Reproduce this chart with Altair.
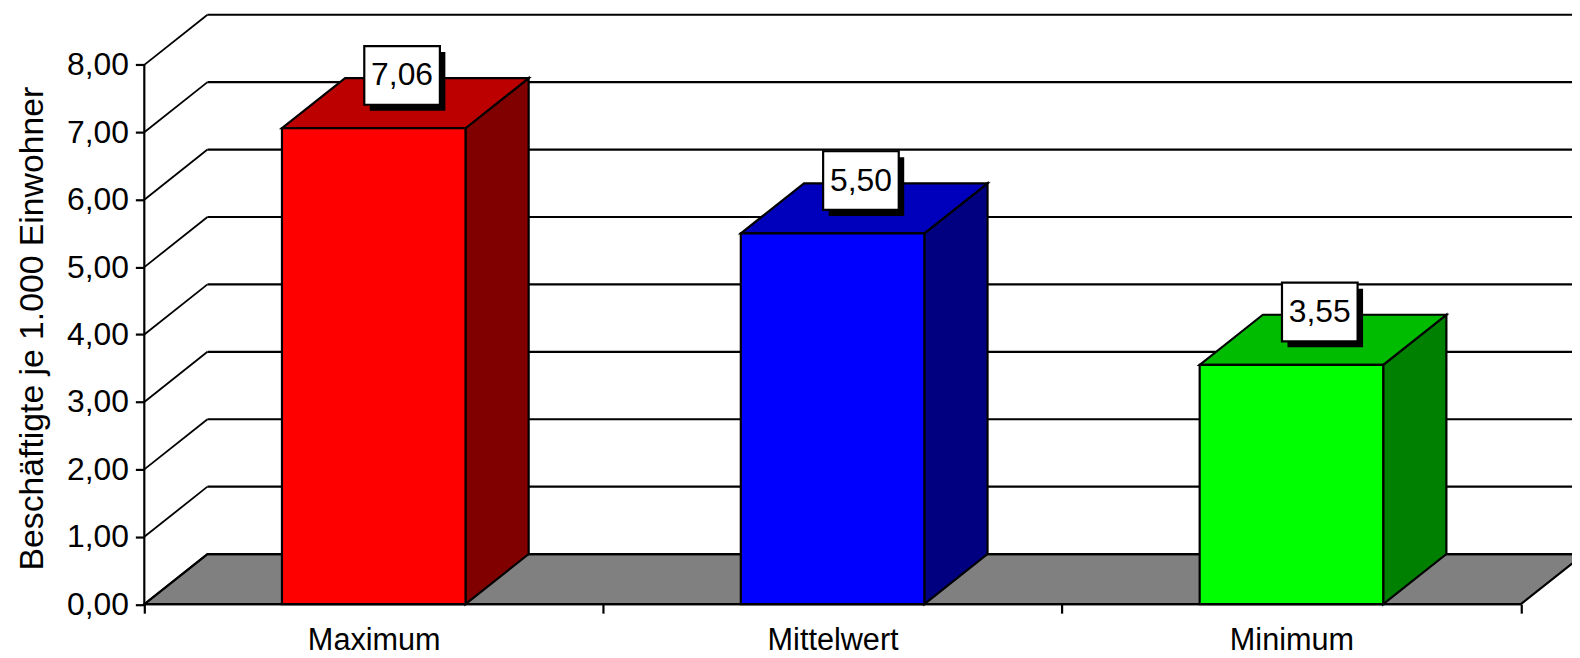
import altair as alt
import pandas as pd

# --- chart values
categories = ["Maximum", "Mittelwert", "Minimum"]
values = [7.06, 5.50, 3.55]
value_labels = ["7,06", "5,50", "3,55"]
front_colors = ["#FF0000", "#0000FF", "#00FF00"]
top_colors = ["#BC0000", "#0000BC", "#00BC00"]
side_colors = ["#800000", "#000080", "#008000"]
y_ticks = [0, 1, 2, 3, 4, 5, 6, 7, 8]
floor_color = "#808080"

# --- projection of the pseudo-3D box, in data units
PX_X = 461.2          # pixels per category
PX_Y = 67.76          # pixels per unit of value
DX = 63.5 / PX_X      # depth along x
DY = 50.4 / PX_Y      # depth along y
BAR = 0.4             # bar width as a share of the category
PLOT_W, PLOT_H = 1435, 592.5
X_MAX = PLOT_W / PX_X
Y_MAX = PLOT_H / PX_Y
FONT = "Liberation Sans"
LW = 2.2

xs = alt.Scale(domain=[0, X_MAX], nice=False, zero=False)
ys = alt.Scale(domain=[0, Y_MAX], nice=False, zero=False)

x_axis_vals = [0, 0.5, 1, 1.5, 2, 2.5, 3]
label_expr = "datum.value==0.5?'%s':datum.value==1.5?'%s':datum.value==2.5?'%s':''" % tuple(categories)
x_axis = alt.Axis(
    values=x_axis_vals, labelExpr=label_expr, title=None, domain=False, grid=False,
    tickSize=9, tickWidth=LW, tickColor="black",
    tickOpacity={"condition": {"test": "datum.value % 1 === 0", "value": 1}, "value": 0},
    labelFont=FONT, labelFontSize=30.8, labelColor="black", labelPadding=13,
    labelOverlap=False, labelFlush=False, labelBound=False, labelAngle=0)
y_axis = alt.Axis(
    values=y_ticks, labelExpr="replace(format(datum.value,'.2f'),'.',',')",
    title="Beschäftigte je 1.000 Einwohner", titleFont=FONT, titleFontSize=33.9,
    titleFontWeight="normal", titleColor="black", titleAngle=-90,
    titleX=-102, titleY=315, titleBaseline="alphabetic", titleAlign="center",
    domain=False, grid=False, tickSize=9, tickWidth=LW, tickColor="black",
    labelFont=FONT, labelFontSize=32, labelColor="black", labelPadding=7,
    labelOverlap=False, labelFlush=False, labelBound=False)

X = lambda f: alt.X(f, type="quantitative", scale=xs, axis=x_axis)
Y = lambda f: alt.Y(f, type="quantitative", scale=ys, axis=y_axis)

# Floor
floor_df = pd.DataFrame({"y": [0, DY], "x": [0, DX], "x2": [3, 3 + DX]})
floor = alt.Chart(floor_df).mark_area(orient="horizontal", fill=floor_color, stroke="black",
                                      strokeWidth=LW).encode(
    y=Y("y"), x=X("x"), x2="x2:Q")

# Wall grid: rules from the axis ticks
grid_df = pd.DataFrame({"v": y_ticks})
grid_df["vb"] = grid_df["v"] + DY
grid_df["x0"] = DX
grid_df["x1"] = 3 + DX
grid_df["xa"] = 0.0
wall = alt.Chart(grid_df).mark_rule(color="black", strokeWidth=LW).encode(
    x=X("x0"), x2="x1:Q", y=Y("vb"))
diag = alt.Chart(grid_df).mark_rule(color="black", strokeWidth=1.8).encode(
    x=X("xa"), x2="x0:Q", y=Y("v"), y2="vb:Q")

# Axis lines
y_line = alt.Chart(pd.DataFrame({"a": [0], "b": [8], "x": [0]})).mark_rule(
    color="black", strokeWidth=LW).encode(x=X("x"), y=Y("a"), y2="b:Q")
x_line = alt.Chart(pd.DataFrame({"a": [0], "b": [3], "y": [0]})).mark_rule(
    color="black", strokeWidth=LW).encode(x=X("a"), x2="b:Q", y=Y("y"))

# Bars
rows, side_rows, top_rows = [], [], []
for i, (c, v, l, fc, tc, sc) in enumerate(zip(categories, values, value_labels,
                                              front_colors, top_colors, side_colors)):
    xl, xr = i + 0.5 - BAR / 2, i + 0.5 + BAR / 2
    rows.append(dict(cat=c, xl=xl, xr=xr, v=v, zero=0, color=fc, label=l,
                     bx=i + 0.5 + 28.5 / PX_X, by=v + DY + 2.7 / PX_Y))
    side_rows += [dict(cat=c, x=xr, y=0, y2=v, color=sc),
                  dict(cat=c, x=xr + DX, y=DY, y2=v + DY, color=sc)]
    top_rows += [dict(cat=c, y=v, x=xl, x2=xr, color=tc),
                 dict(cat=c, y=v + DY, x=xl + DX, x2=xr + DX, color=tc)]
bars_df = pd.DataFrame(rows)
HW, HH = 38 / PX_X, 29.5 / PX_Y
bars_df["b_l"] = bars_df.bx - HW
bars_df["b_r"] = bars_df.bx + HW
bars_df["b_t"] = bars_df.by + HH
bars_df["b_b"] = bars_df.by - HH
SX, SY = 5.5 / PX_X, 6 / PX_Y
bars_df["s_l"] = bars_df.b_l + SX
bars_df["s_r"] = bars_df.b_r + SX
bars_df["s_t"] = bars_df.b_t - SY
bars_df["s_b"] = bars_df.b_b - SY

front = alt.Chart(bars_df).mark_rect(stroke="black", strokeWidth=LW).encode(
    x=X("xl"), x2="xr:Q", y=Y("zero"), y2="v:Q",
    fill=alt.Fill("color:N", scale=None))
side = alt.Chart(pd.DataFrame(side_rows)).mark_area(stroke="black", strokeWidth=LW).encode(
    x=X("x"), y=Y("y"), y2="y2:Q", fill=alt.Fill("color:N", scale=None))
top = alt.Chart(pd.DataFrame(top_rows)).mark_area(orient="horizontal", stroke="black",
                                                  strokeWidth=LW).encode(
    y=Y("y"), x=X("x"), x2="x2:Q", fill=alt.Fill("color:N", scale=None))

shadow = alt.Chart(bars_df).mark_rect(color="black").encode(
    x=X("s_l"), x2="s_r:Q", y=Y("s_b"), y2="s_t:Q")
box = alt.Chart(bars_df).mark_rect(fill="white", stroke="black", strokeWidth=LW).encode(
    x=X("b_l"), x2="b_r:Q", y=Y("b_b"), y2="b_t:Q")
text = alt.Chart(bars_df).mark_text(font=FONT, fontSize=32, color="black",
                                    align="center", baseline="middle", dy=0).encode(
    x=X("bx"), y=Y("by"), text="label:N")

chart = alt.layer(
    floor, wall, diag, y_line, side, top, front, x_line, shadow, box, text
).properties(
    width=PLOT_W, height=PLOT_H,
    padding={"left": 137, "top": 5.1, "right": 0, "bottom": 52},
    autosize=alt.AutoSizeParams(type="none"),
    background="white",
).configure_view(stroke=None)

chart.save("out.html", embed_options={"renderer": "svg", "actions": False})
